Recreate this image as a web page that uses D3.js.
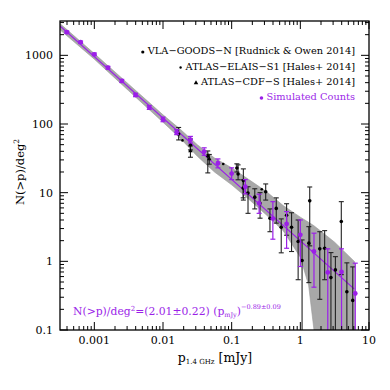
<!DOCTYPE html>
<html>
<head>
<meta charset="utf-8">
<script src="https://cdn.jsdelivr.net/npm/d3@7"></script>
<style>
  body { margin: 0; background: #fff; }
  svg text { font-family: "DejaVu Serif", "Liberation Serif", serif; }
</style>
</head>
<body>
<svg id="counts" width="390" height="390"></svg>
<script>
let svg = d3.select("#counts");

// simulated counts (purple)
let simFlux = [0.000398, 0.000631, 0.001, 0.00158, 0.00251, 0.00398, 0.00631, 0.01, 0.0158, 0.0251, 0.0398,
  0.0631, 0.1, 0.158, 0.251, 0.398, 0.631, 1.0, 1.58, 2.51, 3.98, 6.31];
let simN = [2170, 1550, 1035, 660, 424, 265, 174, 117, 76, 59, 39.6, 26.8, 19, 12.2, 7.0, 4.2, 3.5, 2.43, 1.39, 0.69, 0.70, 0.34];
let simLo = [2090, 1490, 990, 630, 402, 250, 163, 108, 70, 53, 35, 23, 15.5, 9.6, 5.0, 2.1, 1.55, 0.84, 0.42, 0.01, 0.01, 0.01];
let simHi = [2250, 1610, 1080, 690, 446, 280, 186, 126, 83, 66, 45, 31, 23, 15.5, 9.5, 7.4, 5.3, 4.0, 2.57, 1.52, 1.52, 0.94];

// VLA-GOODS-N
let goodsFlux = [0.0169, 0.0251, 0.0449, 0.119, 0.124, 0.148, 0.147, 0.173, 0.217, 0.259, 0.313, 0.361, 0.446, 0.527,
  0.631, 0.745, 0.929, 1.06, 1.37, 1.33, 1.92, 2.26, 2.79, 3.24, 3.95, 4.76, 5.8];
let goodsN = [71.6, 49.5, 34.3, 22.9, 18.7, 15, 11.7, 9.9, 8.6, 7.0, 10.3, 4.25, 5.9, 3.14,
  4.7, 3.14, 1.94, 1.03, 7.6, 1.84, 1.52, 1.55, 0.58, 0.75, 3.8, 0.36, 0.27];
let goodsLo = [58.6, 41.9, 19.4, 20, 15.4, 7.8, 8.4, 5.0, 5.8, 4.25, 7.8, 2.7, 3.6, 1.33,
  2.4, 1.39, 0.54, 0.01, 1.68, 0.49, 0.28, 0.54, 0.01, 0.01, 0.64, 0.01, 0.01];
let goodsHi = [89, 60.5, 40.5, 26.3, 25.4, 22.2, 15.4, 12.2, 11.4, 10, 13.4, 5.8, 8.4, 4.15,
  6.9, 5.1, 4.0, 2.05, 12.1, 3.2, 2.7, 2.8, 1.34, 1.17, 7.4, 0.95, 0.83];

// ATLAS-ELAIS-S1
let elaisFlux = [0.0192, 0.0754, 0.274];
let elaisN = [57.7, 26.2, 11.2];

// ATLAS-CDF-S
let cdfsFlux = [0.0251, 0.0472];
let cdfsN = [40.5, 31];
let cdfsLo = [32.8, 26];
let cdfsHi = [47.9, 36];

// shaded band
let bandFlux = [0.000316, 0.001, 0.00316, 0.01, 0.0178, 0.0316, 0.0562, 0.1, 0.178, 0.316, 0.562, 1.0, 1.32, 1.58, 3.16, 6.17];
let bandLo = [2350, 880, 305, 106, 62, 34, 20, 13, 8.0, 4.8, 2.8, 1.15, 0.45, 0.1, 0.1, 0.1];
let bandHi = [2900, 1060, 380, 136, 84, 50, 32, 23, 15.5, 10.5, 6.5, 4.4, 3.7, 3.3, 1.9, 0.99];

// fitted power law, end points
let fitFlux = [0.000316, 6.07];
let fitN = [2675, 0.397];

let xTicks = [0.001, 0.01, 0.1, 1, 10];
let xTickLabels = ["0.001", "0.01", "0.1", "1", "10"];
let yTicks = [0.1, 1, 10, 100, 1000];
let yTickLabels = ["0.1", "1", "10", "100", "1000"];

let purple = "#9b1fe8";
let pLeft = 60, pRight = 369, pTop = 21, pBottom = 330;

let x = d3.scaleLog().domain([Math.pow(10, -3.5), 10]).range([pLeft, pRight]);
let y = d3.scaleLog().domain([0.1, Math.pow(10, 3.5)]).range([pBottom, pTop]);

svg.append("clipPath").attr("id", "plotclip")
  .append("rect").attr("x", pLeft).attr("y", pTop).attr("width", pRight - pLeft).attr("height", pBottom - pTop);

let plot = svg.append("g").attr("clip-path", "url(#plotclip)");

// band
let area = d3.area()
  .x(i => x(bandFlux[i]))
  .y0(i => y(bandLo[i]))
  .y1(i => y(bandHi[i]));
plot.append("path")
  .datum(d3.range(bandFlux.length))
  .attr("d", area)
  .attr("fill", "#a8a8a8")
  .attr("stroke", "#999")
  .attr("stroke-width", 0.6);

// error bar helper
function errBars(g, xs, lo, hi, color, w) {
  xs.forEach((p, i) => {
    let cx = x(p), y0 = y(Math.max(lo[i], 0.01)), y1 = y(hi[i]);
    g.append("line").attr("x1", cx).attr("x2", cx).attr("y1", y0).attr("y2", y1)
      .attr("stroke", color).attr("stroke-width", w);
    g.append("line").attr("x1", cx - 2.5).attr("x2", cx + 2.5).attr("y1", y1).attr("y2", y1)
      .attr("stroke", color).attr("stroke-width", w);
    if (lo[i] > 0.1)
      g.append("line").attr("x1", cx - 2.5).attr("x2", cx + 2.5).attr("y1", y0).attr("y2", y0)
        .attr("stroke", color).attr("stroke-width", w);
  });
}

// fit line
plot.append("path")
  .datum(d3.range(fitFlux.length))
  .attr("d", d3.line().x(i => x(fitFlux[i])).y(i => y(fitN[i])))
  .attr("stroke", purple).attr("stroke-width", 1.2).attr("fill", "none");

// observations
errBars(plot, goodsFlux, goodsLo, goodsHi, "#222", 1.1);
errBars(plot, cdfsFlux, cdfsLo, cdfsHi, "#222", 1.1);
plot.selectAll(".goods").data(goodsFlux).join("circle")
  .attr("cx", d => x(d)).attr("cy", (d, i) => y(goodsN[i])).attr("r", 1.8).attr("fill", "#000");
plot.selectAll(".elais").data(elaisFlux).join("circle")
  .attr("cx", d => x(d)).attr("cy", (d, i) => y(elaisN[i])).attr("r", 1.3).attr("fill", "#000");
let tri = d3.symbol().type(d3.symbolTriangle).size(9);
cdfsFlux.forEach((p, i) => {
  plot.append("path").attr("d", tri).attr("transform", `translate(${x(p)},${y(cdfsN[i])})`).attr("fill", "#000");
});

// simulated
errBars(plot, simFlux, simLo, simHi, purple, 1.2);
simFlux.forEach((p, i) => {
  plot.append("circle").attr("cx", x(p)).attr("cy", y(simN[i])).attr("r", 2.4).attr("fill", purple);
});

// frame and ticks
svg.append("rect").attr("x", pLeft).attr("y", pTop).attr("width", pRight - pLeft).attr("height", pBottom - pTop)
  .attr("fill", "none").attr("stroke", "#000").attr("stroke-width", 1.3);

function logTicks(scale) {
  let [a, b] = scale.domain();
  let out = [];
  for (let e = Math.floor(Math.log10(a)); e <= Math.ceil(Math.log10(b)); e++) {
    for (let m = 1; m < 10; m++) {
      let v = m * Math.pow(10, e);
      if (v >= a * 0.999 && v <= b * 1.001) out.push({v: v, major: m === 1});
    }
  }
  return out;
}

let tg = svg.append("g").attr("stroke", "#000").attr("stroke-width", 1);
logTicks(x).forEach(t => {
  let px = x(t.v), len = t.major ? 8 : 4;
  tg.append("line").attr("x1", px).attr("x2", px).attr("y1", pBottom).attr("y2", pBottom - len);
  tg.append("line").attr("x1", px).attr("x2", px).attr("y1", pTop).attr("y2", pTop + len);
});
logTicks(y).forEach(t => {
  let py = y(t.v), len = t.major ? 8 : 4;
  tg.append("line").attr("x1", pLeft).attr("x2", pLeft + len).attr("y1", py).attr("y2", py);
  tg.append("line").attr("x1", pRight).attr("x2", pRight - len).attr("y1", py).attr("y2", py);
});

svg.selectAll(".xl").data(xTicks).join("text")
  .attr("x", d => x(d)).attr("y", 344).attr("text-anchor", "middle")
  .attr("font-size", 11).text((d, i) => xTickLabels[i]);
svg.selectAll(".yl").data(yTicks).join("text")
  .attr("x", 53).attr("y", d => y(d) + 4).attr("text-anchor", "end")
  .attr("font-size", 11).text((d, i) => yTickLabels[i]);

// axis titles
let xt = svg.append("text").attr("x", 215).attr("y", 362).attr("text-anchor", "middle").attr("font-size", 12.5);
xt.append("tspan").text("p");
xt.append("tspan").attr("font-size", 7).attr("dy", 2).text("1.4 GHz");
xt.append("tspan").attr("dy", -2).text(" [mJy]");

let yt = svg.append("text").attr("transform", "translate(24,172) rotate(-90)")
  .attr("text-anchor", "middle").attr("font-size", 11.5);
yt.append("tspan").text("N(>p)/deg");
yt.append("tspan").attr("font-size", 7.5).attr("dy", -5).text("2");

// legend
let legendRows = ["VLA\u2212GOODS\u2212N [Rudnick & Owen 2014]", "ATLAS\u2212ELAIS\u2212S1 [Hales+ 2014]",
  "ATLAS\u2212CDF\u2212S [Hales+ 2014]", "Simulated Counts"];
let legendY = [54, 69.5, 85, 100];
let legendColor = ["#000", "#000", "#000", purple];
legendRows.forEach((s, i) => {
  let t = svg.append("text").attr("x", 355).attr("y", legendY[i]).attr("text-anchor", "end")
    .attr("font-size", 9.8).attr("fill", legendColor[i]).text(s);
  let x0 = 355 - t.node().getComputedTextLength() - 5;
  if (i === 2) {
    svg.append("path").attr("d", tri).attr("transform", `translate(${x0},${legendY[i] - 2})`).attr("fill", "#000");
  } else {
    svg.append("circle").attr("cx", x0).attr("cy", legendY[i] - 2)
      .attr("r", i === 1 ? 1.2 : (i === 3 ? 1.8 : 1.6)).attr("fill", legendColor[i]);
  }
});

// fit formula
let ft = svg.append("text").attr("x", 73).attr("y", 315).attr("font-size", 10.8).attr("fill", purple);
ft.append("tspan").text("N(>p)/deg");
ft.append("tspan").attr("font-size", 7).attr("dy", -4).text("2");
ft.append("tspan").attr("dy", 4).text("=(2.01\u00b10.22) (p");
ft.append("tspan").attr("font-size", 6.5).attr("dy", 2).text("mJy");
ft.append("tspan").attr("dy", -2).text(")");
ft.append("tspan").attr("font-size", 6.5).attr("dy", -6).text("\u22120.89\u00b10.09");
</script>
</body>
</html>
